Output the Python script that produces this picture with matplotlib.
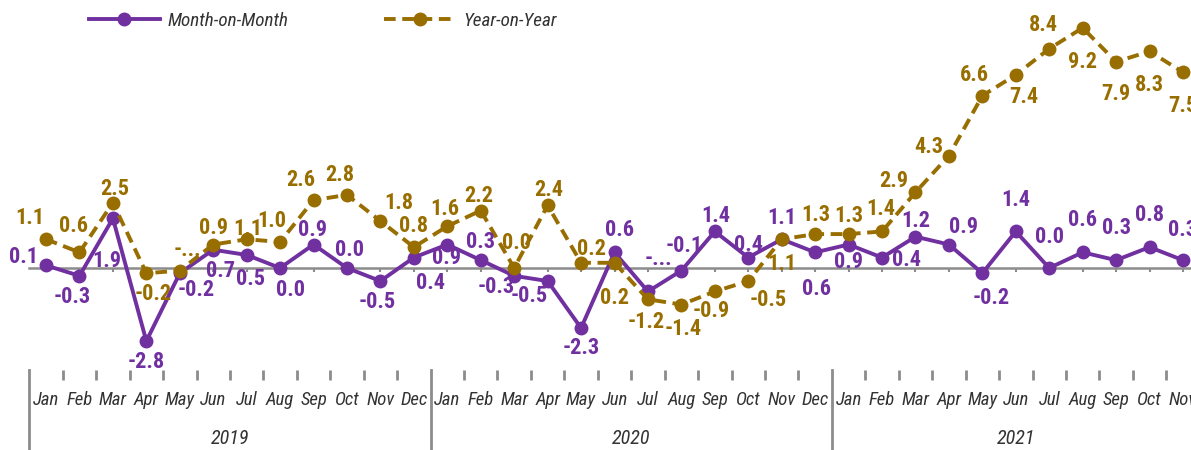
import matplotlib.pyplot as plt

# CPI change, Jan 2019 - Nov 2021
months = ["Jan", "Feb", "Mar", "Apr", "May", "Jun",
          "Jul", "Aug", "Sep", "Oct", "Nov", "Dec"]
years = ["2019", "2020", "2021"]
n_months = [12, 12, 11]

mom = [0.1, -0.3, 1.9, -2.8, -0.2, 0.7, 0.5, 0.0, 0.9, 0.0, -0.5, 0.4,
       0.9, 0.3, -0.3, -0.5, -2.3, 0.6, -0.9, -0.1, 1.4, 0.4, 1.1, 0.6,
       0.9, 0.4, 1.2, 0.9, -0.2, 1.4, 0.0, 0.6, 0.3, 0.8, 0.3]
yoy = [1.1, 0.6, 2.5, -0.2, -0.1, 0.9, 1.1, 1.0, 2.6, 2.8, 1.8, 0.8,
       1.6, 2.2, 0.0, 2.4, 0.2, 0.2, -1.2, -1.4, -0.9, -0.5, 1.1, 1.3,
       1.3, 1.4, 2.9, 4.3, 6.6, 7.4, 8.4, 9.2, 7.9, 8.3, 7.5]
# labels that were cut short in the original
mom_txt = ["%.1f" % v for v in mom]
yoy_txt = ["%.1f" % v for v in yoy]
mom_txt[18] = "-..."
yoy_txt[4] = "-..."

# label offsets in pixels (dx, dy)
mom_off = [(-23, 8), (-7, -21), (-6, -43), (0, -21), (16, -17), (7, -21),
           (4, -24), (10, -22), (-1, 15), (3, 18), (-3, -21), (17, -25),
           (-1, -13), (0, 18), (-18, -11), (-18, -15), (0, -20), (5, 22),
           (10, 32), (3, 25), (1, 15), (0, 13), (0, 21), (1, -37),
           (0, -17), (24, -2), (0, 16), (15, 18), (9, -25), (0, 31),
           (0, 31), (0, 32), (0, 32), (0, 32), (0, 30)]
yoy_off = [(-16, 21), (-6, 26), (2, 14), (7, -21), (8, 21), (0, 17),
           (1, 10), (-8, 21), (-13, 20), (-7, 20), (18, 18), (0, 21),
           (-3, 17), (-2, 15), (2, 25), (1, 15), (10, 14), (0, -35),
           (-2, -23), (2, -24), (-4, -20), (20, -19), (0, -25), (1, 19),
           (0, 18), (-1, 22), (-22, 11), (-20, 9), (-8, 21), (8, -22),
           (-6, 24), (0, -34), (0, -32), (0, -34), (0, -34)]

purple = "#7030A0"
gold = "#996E00"
grey = "#8C8C8C"
txtc = "#333333"

plt.rcParams["font.family"] = ["Roboto Condensed", "DejaVu Sans"]

W, H = 1191, 450
fig = plt.figure(figsize=(W / 100, H / 100), dpi=100)
x0, x1 = 29.3, 1199.7
ax = fig.add_axes([x0 / W, 80 / H, (x1 - x0) / W, 370 / H])
x = list(range(len(mom)))

l1, = ax.plot(x, mom, color=purple, lw=2.8, marker="o", ms=9, zorder=3,
              label="Month-on-Month")
l2, = ax.plot(x, yoy, color=gold, lw=2.8, ls=(0, (3, 1.7)), marker="o", ms=9,
              zorder=4, label="Year-on-Year")

for i in x:
    ax.annotate(mom_txt[i], (i, mom[i]), xytext=mom_off[i], textcoords="offset pixels",
                ha="center", va="center", color=purple, fontsize=16, fontweight="bold",
                zorder=6)
    ax.annotate(yoy_txt[i], (i, yoy[i]), xytext=yoy_off[i], textcoords="offset pixels",
                ha="center", va="center", color=gold, fontsize=16, fontweight="bold",
                zorder=6)

ax.set_xlim(-0.5, len(mom) - 0.5)
ax.set_ylim(-102 / 26.1, 268 / 26.1)
for s in ["top", "right", "left"]:
    ax.spines[s].set_visible(False)
ax.spines["bottom"].set_position(("data", 0))
ax.spines["bottom"].set_color(grey)
ax.spines["bottom"].set_linewidth(1.8)
ax.spines["bottom"].set_zorder(1)
ax.set_xticks(x)
ax.tick_params(axis="x", direction="out", length=3, width=1.5, color=grey,
               labelbottom=False)
ax.set_yticks([])
ax.patch.set_alpha(0)

# category axis at the bottom
ax2 = fig.add_axes([x0 / W, 0, (x1 - x0) / W, 80 / H])
ax2.set_xlim(ax.get_xlim())
ax2.set_ylim(0, 1)
for s in ax2.spines.values():
    s.set_visible(False)
ax2.set_yticks([])
bounds = [k - 0.5 for k in range(1, len(mom)) if k % 12 != 0]
ax2.set_xticks(bounds)
ax2.tick_params(axis="x", top=True, bottom=False, direction="in", length=7,
                width=2, color=grey, labeltop=False, labelbottom=False)
ax2.patch.set_alpha(0)

k = 0
for yi, yr in enumerate(years):
    ax2.axvline(k - 0.5, 0, 1, color=grey, lw=2, clip_on=False)
    for m in range(n_months[yi]):
        ax2.text(k + m, 0.62, months[m], ha="center", va="center", fontsize=13.5,
                 style="italic", color=txtc)
    ax2.text(k + (n_months[yi] - 1) / 2, 0.15, yr, ha="center", va="center",
             fontsize=14.5, style="italic", color=txtc)
    k += n_months[yi]

fig.legend(handles=[l1, l2], loc="center left", bbox_to_anchor=(89 / W, 1 - 21 / H),
           ncol=2, frameon=False, prop={"style": "italic", "size": 13.8},
           labelcolor=txtc, handlelength=3.7, handletextpad=0.4, columnspacing=5.0,
           borderpad=0, borderaxespad=0)

fig.savefig("out.png", dpi=100)
